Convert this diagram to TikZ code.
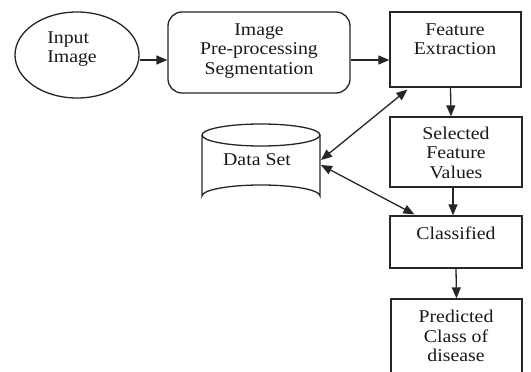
\documentclass[tikz,border=0pt]{standalone}
\usepackage{fontspec}
\setmainfont{Liberation Serif}[FakeStretch=1.1]
\usetikzlibrary{arrows.meta,shapes.geometric}
\tikzset{
  ln/.style={line width=1.3pt, draw=black!85},
  box/.style={ln, rectangle, inner sep=0pt},
  txt/.style={align=center, font=\fontsize{18}{19.5}\selectfont, text=black!90, inner sep=0pt},
  arr/.style={ln, -{Triangle[length=11pt,width=9pt]}},
  darr/.style={ln, {Triangle[length=11pt,width=9pt]}-{Triangle[length=11pt,width=9pt]}}
}
\begin{document}
\begin{tikzpicture}[x=1pt,y=-1pt]
\useasboundingbox (0,0) rectangle (531,372);
% Input image ellipse
\node[ln, ellipse, minimum width=124pt, minimum height=86pt, inner sep=0pt] (inp) at (77,55) {};
\node[txt, align=left] (inptxt) at (72,49) {Input\\Image};
% Pre-processing
\node[ln, rectangle, rounded corners=14pt, minimum width=182pt, minimum height=81pt] (pre) at (259,52.5) {};
\node[txt] (pretxt) at (259,51) {Image\\Pre-processing\\Segmentation};
% Feature extraction
\node[box, minimum width=131pt, minimum height=75pt] (fe) at (455.5,49.5) {};
\node[txt] (fetxt) at (455,39) {Feature\\Extraction};
% Selected feature values
\node[box, minimum width=132pt, minimum height=70pt] (sel) at (456,152) {};
\node[txt] (seltxt) at (456,152.5) {Selected\\Feature\\Values};
% Classified
\node[box, minimum width=132pt, minimum height=52pt] (cls) at (456,242) {};
\node[txt] (clstxt) at (456,233) {Classified};
% Predicted (cut off at bottom)
\node[box, minimum width=131pt, minimum height=100pt] (pred) at (456.5,349) {};
\node[txt] (predtxt) at (456,336) {Predicted\\Class of\\disease};
% Data set cylinder
\draw[ln] (202,135) arc[start angle=180, end angle=-180, x radius=59, y radius=11];
\draw[ln] (202,135) -- (202,196) arc[start angle=180, end angle=360, x radius=59, y radius=11] -- (320,135);
\node[txt] (dstxt) at (257,160) {Data Set};
\coordinate (ds1) at (321,160);
\coordinate (ds2) at (321,165);
% arrows
\draw[arr] (inp.east |- 0,60) -- (pre.west |- 0,60);
\draw[arr] (pre.east |- 0,60) -- (fe.west |- 0,60);
\draw[arr] ([xshift=-5pt]fe.south) -- ([xshift=-5pt]sel.north);
\draw[arr] ([xshift=-3pt]sel.south) -- ([xshift=-3pt]cls.north);
\draw[arr] (cls.south) -- (pred.north);
\draw[darr] (ds1) -- ([xshift=18pt,yshift=-2pt]fe.south west);
\draw[darr] (ds2) -- ([xshift=25pt,yshift=1pt]cls.north west);
\end{tikzpicture}
\end{document}
